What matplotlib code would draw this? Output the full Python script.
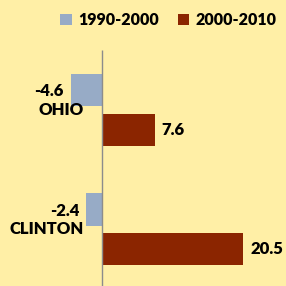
import matplotlib
matplotlib.use('Agg')
import matplotlib.pyplot as plt
import numpy as np

categories = ["OHIO", "CLINTON"]
series_names = ["1990-2000", "2000-2010"]
vals_1990 = [-4.6, -2.4]
vals_2000 = [7.6, 20.5]

bg = "#FFEFA6"
blue = "#97ABC6"
red = "#8B2500"

plt.rcParams['font.family'] = ['Lato', 'DejaVu Sans']
fw = 'heavy'
fs = 12

fig = plt.figure(figsize=(2.86, 2.86), dpi=100, facecolor=bg)
ax = fig.add_axes([0, 0, 1, 1], facecolor=bg)

y = np.arange(len(categories))
off = 0.167
h = 0.268
ax.barh(y - off, vals_1990, height=h, color=blue, label=series_names[0])
ax.barh(y + off, vals_2000, height=h, color=red, label=series_names[1])

for v, yy in zip(vals_1990, y - off):
    ax.annotate(f"{v}", (v, yy), xytext=(-7, -1), textcoords="offset pixels",
                ha='right', va='center', fontsize=fs, fontweight=fw)
for v, yy in zip(vals_2000, y + off):
    ax.annotate(f"{v}", (v, yy), xytext=(7, 0), textcoords="offset pixels",
                ha='left', va='center', fontsize=fs, fontweight=fw)

for c, yy in zip(categories, y):
    ax.annotate(c, (0, yy), xytext=(-19, 0), textcoords="offset pixels",
                ha='right', va='center', fontsize=fs, fontweight=fw)

ax.set_xlim(-14.94, 26.75)
ax.set_ylim(1.473, -0.92)
ax.vlines(0, -0.502, 1.473, color="#8C8C8C", linewidth=1)

ax.set_xticks([])
ax.set_yticks([])
for s in ax.spines.values():
    s.set_visible(False)

ax.legend(loc='upper right', bbox_to_anchor=(1.0, 0.99), ncol=2, frameon=False,
          handlelength=0.7, handleheight=0.7, handletextpad=0.4,
          columnspacing=1.2, borderaxespad=0.2, prop={'size': 11.5, 'weight': fw})

fig.savefig("out.png", dpi=100, facecolor=bg)
